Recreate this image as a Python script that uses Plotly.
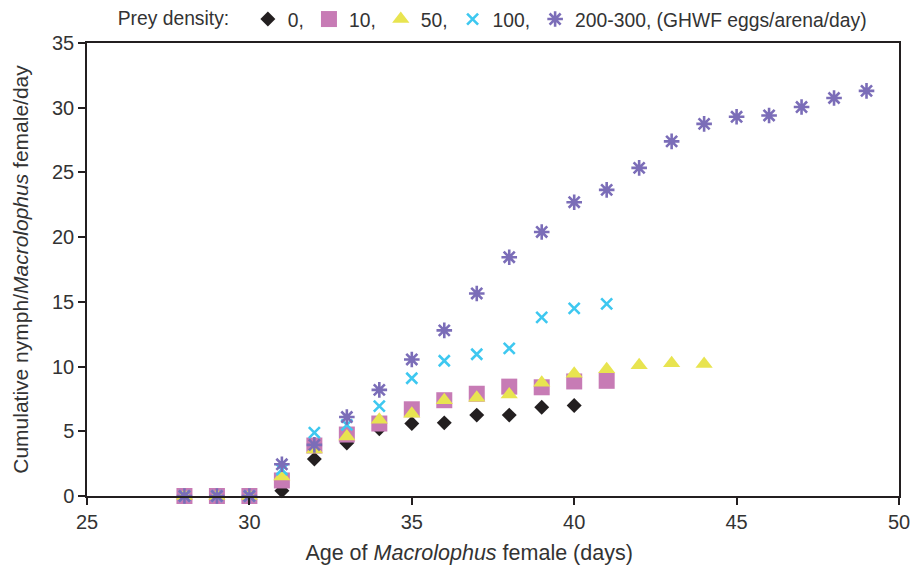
import plotly.graph_objects as go

days_0 = list(range(28, 41))
vals_0 = [0, 0, 0, 0.4, 2.85, 4.1, 5.2, 5.6, 5.65, 6.25, 6.25, 6.85, 7.0]

days_10 = list(range(28, 42))
vals_10 = [0, 0, 0, 1.2, 3.9, 4.75, 5.6, 6.7, 7.4, 7.9, 8.45, 8.4, 8.85, 8.9]

days_50 = list(range(28, 45))
vals_50 = [0, 0, 0, 1.5, 3.6, 4.6, 5.9, 6.35, 7.4, 7.6, 7.85, 8.75, 9.45, 9.8, 10.1, 10.25, 10.2]

days_100 = list(range(28, 42))
vals_100 = [0, 0, 0, 2.05, 4.9, 5.5, 6.95, 9.1, 10.45, 10.95, 11.4, 13.8, 14.5, 14.85]

days_200 = list(range(28, 50))
vals_200 = [0, 0, 0, 2.45, 3.95, 6.1, 8.2, 10.55, 12.8, 15.65, 18.45, 20.4, 22.7, 23.65,
            25.35, 27.4, 28.75, 29.3, 29.4, 30.05, 30.75, 31.3]

names = ["0,", "10,", "50,", "100,", "200-300, (GHWF eggs/arena/day)"]
colors = ["#231f20", "#c77bb5", "#e8e450", "#3ec8f0", "#7b6db8"]
symbols = ["diamond", "square", "triangle-up", "x-thin-open", "asterisk-open"]
sizes = [11.5, 16, 15, 11, 13]

FONT = "Liberation Sans, Arial, sans-serif"
TXT = "#333333"

fig = go.Figure()
series = [(days_0, vals_0), (days_10, vals_10), (days_50, vals_50),
          (days_100, vals_100), (days_200, vals_200)]
for i, (xs, ys) in enumerate(series):
    marker = dict(symbol=symbols[i], size=sizes[i], color=colors[i])
    if "open" in symbols[i]:
        marker["line"] = dict(color=colors[i], width=2.6)
    else:
        marker["line"] = dict(width=0)
    fig.add_trace(go.Scatter(x=xs, y=ys, mode="markers", name=names[i],
                             marker=marker, cliponaxis=False))

x_title = "Age of <i>Macrolophus</i> female (days)" + "&#160;" * 8

fig.update_layout(
    width=911, height=571,
    margin=dict(l=87, r=12, t=43, b=75, autoexpand=False),
    plot_bgcolor="white", paper_bgcolor="white",
    font=dict(family=FONT, size=20, color=TXT),
    legend=dict(orientation="h", xref="container", yref="container",
                x=0.127, xanchor="left", y=1.0, yanchor="top",
                title=dict(text="Prey density:  ", font=dict(family=FONT, size=19.3, color=TXT)),
                font=dict(family=FONT, size=19.3, color=TXT),
                itemwidth=30, tracegroupgap=0, bgcolor="rgba(0,0,0,0)"),
    xaxis=dict(range=[25, 50], tickvals=[25, 30, 35, 40, 45, 50], ticks="outside",
               ticklen=7, tickwidth=1.5, tickcolor="#231f20",
               showline=True, linecolor="#231f20", linewidth=1.5, mirror=True,
               showgrid=False, zeroline=False, automargin=False,
               title=dict(text=x_title, standoff=13,
                          font=dict(family=FONT, size=21.5, color=TXT)),
               tickfont=dict(size=20)),
    yaxis=dict(range=[0, 35], tickvals=[0, 5, 10, 15, 20, 25, 30, 35], ticks="outside",
               ticklen=7, tickwidth=1.5, tickcolor="#231f20",
               showline=True, linecolor="#231f20", linewidth=1.5, mirror=True,
               showgrid=False, zeroline=False, automargin=False,
               title=dict(text="Cumulative nymph/<i>Macrolophus</i> female/day", standoff=18,
                          font=dict(family=FONT, size=21, color=TXT)),
               tickfont=dict(size=20)),
)

fig.write_html("out.html")
